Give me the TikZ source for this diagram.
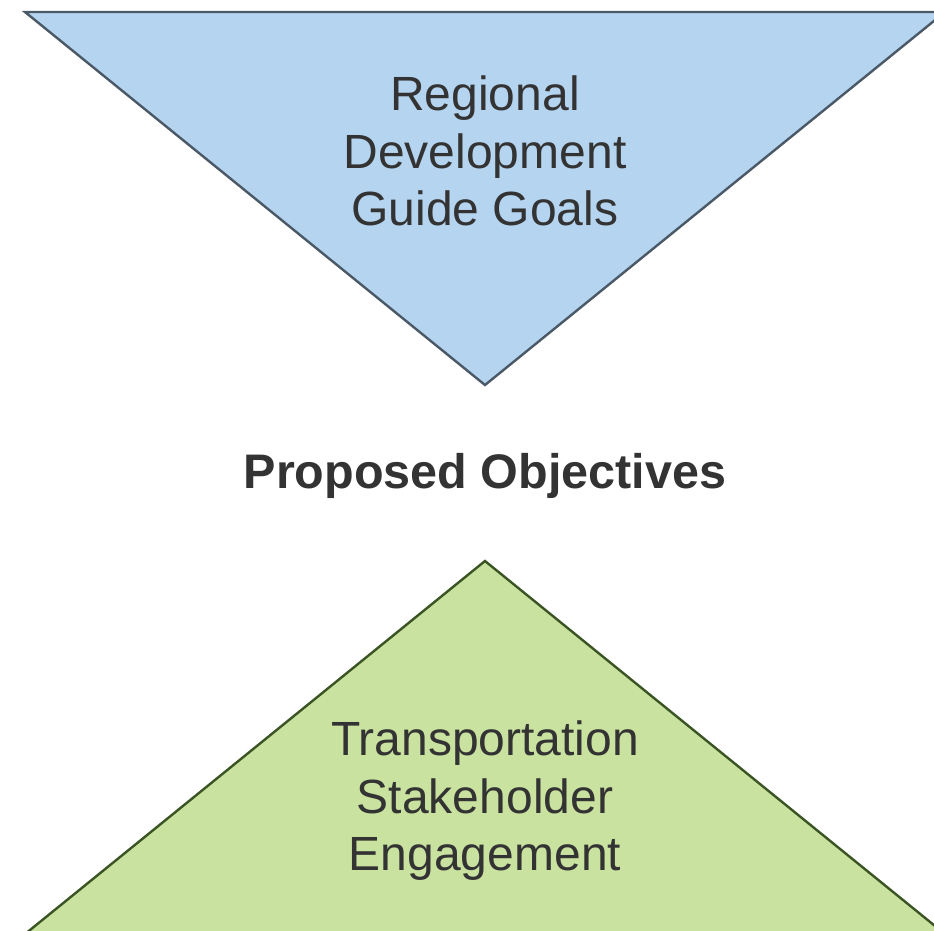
\documentclass[tikz,border=0pt]{standalone}
\usepackage{fontspec}
\setmainfont{Liberation Sans}
\usetikzlibrary{calc}
\definecolor{bluefill}{HTML}{B5D4F0}
\definecolor{bluedraw}{HTML}{4B5966}
\definecolor{greenfill}{HTML}{C9E2A0}
\definecolor{greendraw}{HTML}{3B5423}
\definecolor{txt}{HTML}{333333}
\begin{document}
\begin{tikzpicture}[x=1pt,y=-1pt,
  lbl/.style={align=center,text=txt,font=\fontsize{48}{57.5}\selectfont,inner sep=0pt},
  tri/.style={line width=2.4pt,line join=miter}]
\useasboundingbox (0,0) rectangle (934,930);
\clip (0,0) rectangle (934,930);
\coordinate (tl) at (25,12);
\coordinate (tr) at (945,12);
\coordinate (tb) at (485,385);
\coordinate (ba) at (485,561);
\coordinate (bl) at (30,930);
\coordinate (br) at (940,930);
\draw[tri,fill=bluefill,draw=bluedraw] (tl) -- (tr) -- (tb) -- cycle;
\draw[tri,fill=greenfill,draw=greendraw] (ba) -- ($(ba)!1.03!(bl)$) -- ($(ba)!1.03!(br)$) -- cycle;
\node[lbl] (top) at (485,151) {Regional\\Development\\Guide Goals};
\node[lbl,font=\fontsize{48.5}{57.5}\selectfont\bfseries] (mid) at (485,476) {Proposed Objectives};
\node[lbl] (bot) at (485,801) {Transportation\\Stakeholder\\Engagement};
\end{tikzpicture}
\end{document}
